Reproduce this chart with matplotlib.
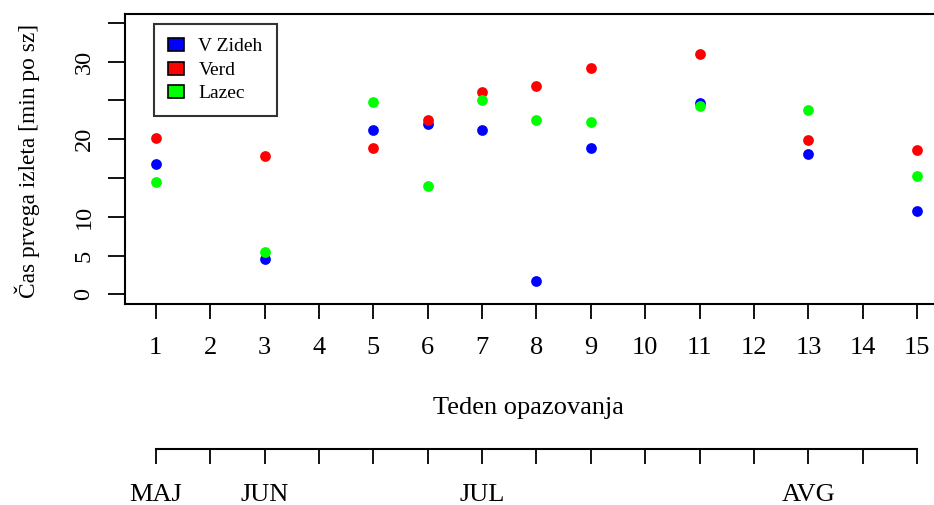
import numpy as np
import matplotlib.pyplot as plt
from matplotlib.patches import Patch

plt.rcParams['font.family'] = ['Liberation Serif', 'DejaVu Serif']

# podatki
tedni = [1, 3, 5, 6, 7, 8, 9, 11, 13, 15]
v_zideh = [16.8, 4.6, 21.2, 21.9, 21.2, 1.7, 18.8, 24.6, 18.1, 10.8]
verd = [20.1, 17.8, 18.8, 22.5, 26.1, 26.9, 29.2, 31.0, 19.9, 18.6]
lazec = [14.5, 5.4, 24.8, 13.9, 25.0, 22.5, 22.2, 24.3, 23.7, 15.2]
imena = ["V Zideh", "Verd", "Lazec"]
barve = ["#0000ff", "#ff0000", "#00ff00"]

vsi_tedni = list(range(1, 16))
y_ticks = [0, 5, 10, 15, 20, 25, 30, 35]
y_labels = ["0", "5", "10", "", "20", "", "30", ""]
meseci = {1: "MAJ", 3: "JUN", 7: "JUL", 13: "AVG"}

W, H = 934, 505
fig = plt.figure(figsize=(W / 100, H / 100), dpi=100)
ax = fig.add_axes([125.3 / W, 1 - 304 / H, 822.3 / W, 289.7 / H])

for vrsta, barva in zip([v_zideh, verd, lazec], barve):
    ax.scatter(tedni, vrsta, s=60, color=barva, linewidths=0, zorder=3)

ax.set_xlim(0.44, 15.56)
ax.set_ylim(-1.25, 36.1)
ax.set_xticks(vsi_tedni)
ax.set_xticklabels([str(t) for t in vsi_tedni], fontsize=19)
ax.set_yticks(y_ticks)
ax.set_yticklabels(y_labels, fontsize=17.5, rotation=90, va="center")
ax.tick_params(axis="x", length=10.8, width=1.3, pad=13)
ax.tick_params(axis="y", length=12.2, width=1.3, pad=10)
for sp in ax.spines.values():
    sp.set_linewidth(1.5)

fig.text(528 / W, 1 - 408 / H, "Teden opazovanja", fontsize=19, ha="center", va="center")
fig.text(27 / W, 1 - 161 / H, "Čas prvega izleta [min po sz]", fontsize=16.8,
         rotation=90, ha="center", va="center")

# legenda
rocaji = [Patch(facecolor=b, edgecolor="black", linewidth=1.2, label=i) for b, i in zip(barve, imena)]
leg = ax.legend(handles=rocaji, loc="upper left", bbox_to_anchor=(0.0353, 0.9665),
                borderaxespad=0, fontsize=14, frameon=True, fancybox=False,
                edgecolor="black", borderpad=0.72, handlelength=0.8, handleheight=0.65,
                handletextpad=0.75, labelspacing=0.32)
leg.get_frame().set_linewidth(1.5)

# druga os z meseci
ax2 = fig.add_axes([125.3 / W, 1 - 449.3 / H, 822.3 / W, 0.001])
ax2.set_xlim(0.44, 15.56)
ax2.set_yticks([])
for k in ["top", "left", "right"]:
    ax2.spines[k].set_visible(False)
ax2.spines["bottom"].set_bounds(1, 15)
ax2.spines["bottom"].set_linewidth(1.5)
ax2.patch.set_visible(False)
ax2.set_xticks(vsi_tedni)
ax2.set_xticklabels([meseci.get(t, "") for t in vsi_tedni], fontsize=19)
ax2.tick_params(axis="x", length=10.8, width=1.3, pad=14)

fig.savefig("out.png", dpi=100)
